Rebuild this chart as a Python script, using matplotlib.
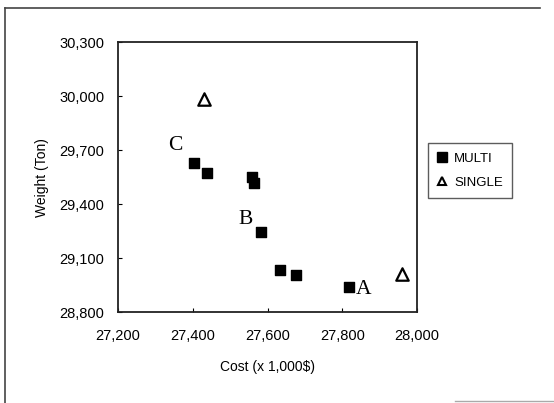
import matplotlib
matplotlib.use("Agg")
import matplotlib.pyplot as plt
from matplotlib.lines import Line2D

multi_cost = [27404, 27437, 27559, 27565, 27583, 27633, 27675, 27819]
multi_weight = [29628, 29572, 29550, 29517, 29246, 29033, 29005, 28939]
single_cost = [27431, 27961]
single_weight = [29987, 29013]
labels = ["C", "B", "A"]
label_cost = [27354, 27541, 27858]
label_weight = [29726, 29318, 28924]
x_ticks = [27200, 27400, 27600, 27800, 28000]
y_ticks = [28800, 29100, 29400, 29700, 30000, 30300]

plt.rcParams['font.family'] = ['Liberation Sans', 'DejaVu Sans']

fig = plt.figure(figsize=(5.54, 4.03), dpi=100)
ax = fig.add_axes([118/554, 1 - 312.3/403, (417-118)/554, (312.3-42.3)/403])

ax.scatter(multi_cost, multi_weight, marker='s', s=46, color='black', zorder=3)
ax.scatter(single_cost, single_weight, marker='^', s=80, facecolor='white',
           edgecolor='black', linewidths=1.6, zorder=3)

for t, xc, yw in zip(labels, label_cost, label_weight):
    ax.text(xc, yw, t, family='Liberation Serif', fontsize=15.5,
            ha='center', va='center', color='black')

ax.set_xlim(27200, 28000)
ax.set_ylim(28800, 30300)
ax.set_xticks(x_ticks)
ax.set_yticks(y_ticks)
ax.set_xticklabels([f"{v:,}" for v in x_ticks])
ax.set_yticklabels([f"{v:,}" for v in y_ticks])
ax.tick_params(direction='in', length=3, labelsize=10.5, colors='black')
ax.tick_params(axis='x', pad=12)
ax.tick_params(axis='y', pad=10)
for s in ax.spines.values():
    s.set_linewidth(1.3)
    s.set_color('#222222')

ax.set_xlabel("Cost (x 1,000$)", fontsize=10, labelpad=12)
ax.set_ylabel("Weight (Ton)", fontsize=10, labelpad=7)

handles = [Line2D([], [], marker='s', color='black', linestyle='None', markersize=7),
           Line2D([], [], marker='^', markerfacecolor='white', markeredgecolor='black',
                  markeredgewidth=1.5, linestyle='None', markersize=6)]
leg = fig.legend(handles, ["MULTI", "SINGLE"], loc='upper left',
                 bbox_to_anchor=(427.6/554, 1 - 143.3/403), fontsize=9.5,
                 frameon=True, fancybox=False, edgecolor='#333333',
                 handlelength=0.8, handletextpad=0.5, borderpad=0.7,
                 labelspacing=0.9, borderaxespad=0)
leg.get_frame().set_linewidth(1.0)

# outer frame lines
fig.add_artist(Line2D([5/554, 540/554], [1 - 8/403, 1 - 8/403], color='#444444', lw=1.2))
fig.add_artist(Line2D([5/554, 5/554], [1 - 8/403, 0], color='#444444', lw=1.2))
fig.add_artist(Line2D([455/554, 554/554], [1 - 401/403, 1 - 401/403], color='#aaaaaa', lw=1.0))

fig.savefig("out.png", dpi=100)
